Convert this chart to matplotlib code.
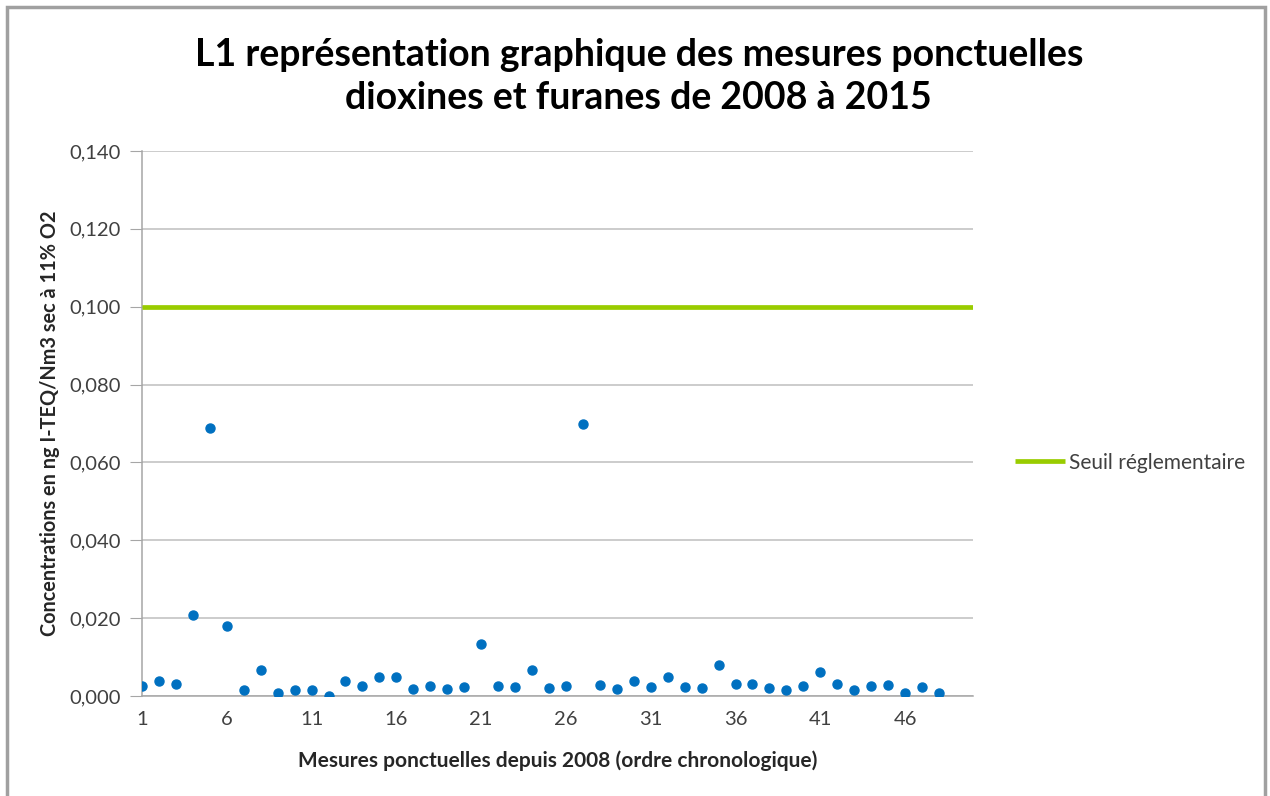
import matplotlib.pyplot as plt
from matplotlib.patches import Rectangle

# mesures ponctuelles (ng I-TEQ/Nm3 sec à 11% O2), ordre chronologique
mesures = [0.0027, 0.0039, 0.0032, 0.0207, 0.0689, 0.0179, 0.0016, 0.0068,
           0.0007, 0.0016, 0.0016, 0.0000, 0.0039, 0.0026, 0.0048, 0.0048,
           0.0017, 0.0027, 0.0018, 0.0023, 0.0133, 0.0027, 0.0023, 0.0068,
           0.0021, 0.0026, 0.0698, 0.0029, 0.0018, 0.0039, 0.0023, 0.0048,
           0.0023, 0.0021, 0.0079, 0.0032, 0.0032, 0.0021, 0.0016, 0.0027,
           0.0061, 0.0032, 0.0016, 0.0027, 0.0029, 0.0009, 0.0023, 0.0009]
n_categories = 50
seuil = [0.100] * n_categories
xtick_labels = ['1', '6', '11', '16', '21', '26', '31', '36', '41', '46']
yticks = [0.0, 0.02, 0.04, 0.06, 0.08, 0.10, 0.12, 0.14]

plt.rcParams['font.family'] = ['Lato', 'DejaVu Sans']

fig = plt.figure(figsize=(12.7, 7.96), dpi=100)
ax = fig.add_axes([0.1118, 0.1256, 0.6543, 0.6847])

cats = list(range(1, n_categories + 1))
ax.plot(cats, seuil, color='#99cc00', linewidth=3.4, solid_capstyle='butt',
        label='Seuil réglementaire', zorder=3)
ax.plot(cats[:len(mesures)], mesures, linestyle='none', marker='o',
        markersize=6.5, color='#0070c0', zorder=4)

ax.set_xlim(1, n_categories)
ax.set_ylim(0, 0.14)
ax.set_yticks(yticks)
ax.set_yticklabels([f'{v:.3f}'.replace('.', ',') for v in yticks])
ax.set_xticks([int(t) for t in xtick_labels])
ax.set_xticklabels(xtick_labels)
ax.tick_params(axis='y', length=9, color='#a6a6a6', labelsize=14.5,
               labelcolor='#404040', pad=6)
ax.tick_params(axis='x', length=0, labelsize=14.5, labelcolor='#404040', pad=11)
ax.grid(axis='y', color='#bfbfbf', linewidth=1.1)
ax.set_axisbelow(True)
for s in ['top', 'right']:
    ax.spines[s].set_visible(False)
for s in ['left', 'bottom']:
    ax.spines[s].set_color('#a6a6a6')
    ax.spines[s].set_linewidth(1.1)

ax.set_ylabel('Concentrations en ng I-TEQ/Nm3 sec à 11% O2', fontsize=14.3,
              fontweight='bold', color='#262626', labelpad=7)
ax.set_xlabel('Mesures ponctuelles depuis 2008 (ordre chronologique)',
              fontsize=15, fontweight='bold', color='#262626', labelpad=16)

fig.text(0.503, 0.904, 'L1 représentation graphique des mesures ponctuelles\n'
         'dioxines et furanes de 2008 à 2015', ha='center', va='center',
         fontsize=27, fontweight='bold', color='#000000', linespacing=1.3)

ax.legend(loc='center left', bbox_to_anchor=(1.028, 0.428), frameon=False,
          fontsize=15, handlelength=2.4, handletextpad=0.2,
          labelcolor='#404040')

# cadre du graphique (coupé en bas)
fig.patches.append(Rectangle((7 / 1270, -0.05), 1258 / 1270, 1.05 - 7 / 796,
                             transform=fig.transFigure, fill=False,
                             edgecolor='#a0a0a0', linewidth=2.5))

fig.savefig('out.png', dpi=100)
